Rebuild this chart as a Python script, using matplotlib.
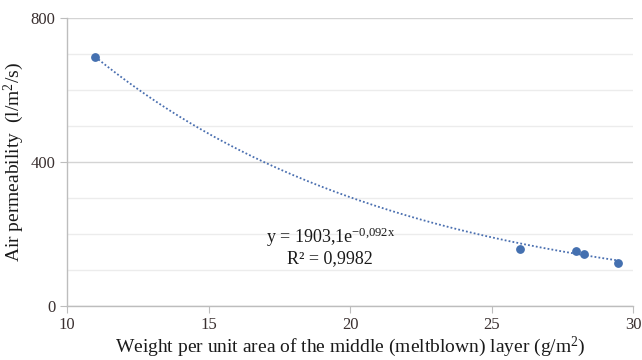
import numpy as np
import matplotlib
matplotlib.use("Agg")
import matplotlib.pyplot as plt
from matplotlib.ticker import MultipleLocator

plt.rcParams['font.family'] = ['Liberation Serif', 'DejaVu Serif']
plt.rcParams['mathtext.fontset'] = 'custom'
plt.rcParams['mathtext.rm'] = 'Liberation Serif'
plt.rcParams['mathtext.it'] = 'Liberation Serif:italic'

# data
weight = [11.0, 26.0, 28.0, 28.26, 29.48]
permeability = [691, 158, 154, 145, 119]
fit_a = 1903.1
fit_b = -0.092
eq_text = r'y = 1903,1e$^{\mathregular{-0{,}092x}}$'
r2_text = 'R² = 0,9982'
xlabel = r'Weight per unit area of the middle (meltblown) layer (g/m$^{\mathregular{2}}$)'
ylabel = r'Air permeability  (l/m$^{\mathregular{2}}$/s)'

fig = plt.figure(figsize=(6.42, 3.6), dpi=100)
ax = fig.add_axes([0.1044, 0.15, 0.8816, 0.80])

ax.set_xlim(10, 30)
ax.set_ylim(0, 800)
ax.xaxis.set_major_locator(MultipleLocator(5))
ax.yaxis.set_major_locator(MultipleLocator(400))
ax.yaxis.set_minor_locator(MultipleLocator(100))

ax.grid(True, which='major', axis='y', color='#d4d4d4', linewidth=1.0, zorder=0)
ax.grid(True, which='minor', axis='y', color='#ececec', linewidth=1.0, zorder=0)
ax.set_axisbelow(True)

for s in ['top', 'right']:
    ax.spines[s].set_visible(False)
for s in ['left', 'bottom']:
    ax.spines[s].set_color('#bdbdbd')
    ax.spines[s].set_linewidth(1.0)

ax.tick_params(axis='both', which='major', direction='out', length=5, color='#bdbdbd',
               labelsize=12, labelcolor='#3a3030')
ax.tick_params(axis='y', which='minor', length=0)
ax.tick_params(axis='x', pad=3)

# trendline
xs = np.linspace(min(weight), max(weight), 200)
ax.plot(xs, fit_a * np.exp(fit_b * xs), linestyle=(0, (1, 1.2)), color='#4a6fb0',
        linewidth=1.3, zorder=2)
ax.scatter(weight, permeability, s=28, color='#4470b0', zorder=3, clip_on=False)

ax.text(19.3, 192, eq_text, ha='center', va='center', fontsize=13, color='#1a1a1a')
ax.text(19.3, 133, r2_text, ha='center', va='center', fontsize=13, color='#1a1a1a')

ax.set_xlabel(xlabel, fontsize=14, color='#1a1a1a', labelpad=1)
ax.set_ylabel(ylabel, fontsize=14, color='#1a1a1a', labelpad=3)

fig.savefig('out.png', dpi=100, facecolor='white')
